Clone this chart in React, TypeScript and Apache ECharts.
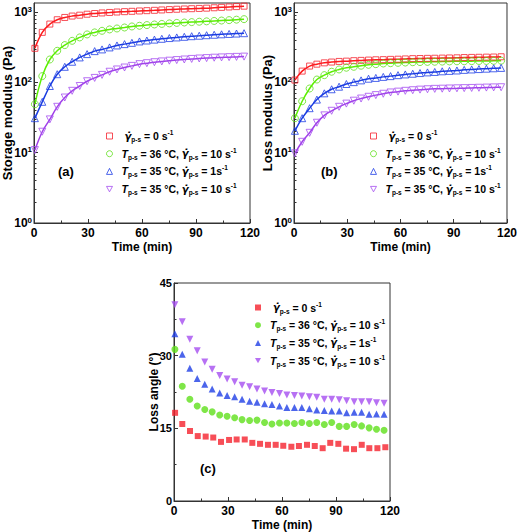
import React, { useEffect, useRef } from 'react';
import * as echarts from 'echarts';

const F = '"Liberation Sans", Arial, sans-serif';

const LEGEND_NAMES = [
  'γ̇p-s = 0 s-1',
  'Tp-s = 36 °C, γ̇p-s = 10 s-1',
  'Tp-s = 35 °C, γ̇p-s = 1 s-1',
  'Tp-s = 35 °C, γ̇p-s = 10 s-1',
];
const LEGEND_RICH = [
  '{gap|}{g0|}{gm|γ̇}{sub|p-s}{n| = 0 s}{sup|-1}',
  '{gap|}{i|T}{sub|p-s}{n| = 36 °C, }{gm|γ̇}{sub|p-s}{n| = 10 s}{sup|-1}',
  '{gap|}{i|T}{sub|p-s}{n| = 35 °C, }{gm|γ̇}{sub|p-s}{n| = 1s}{sup|-1}',
  '{gap|}{i|T}{sub|p-s}{n| = 35 °C, }{gm|γ̇}{sub|p-s}{n| = 10 s}{sup|-1}',
];
const COLORS = ['#f5222d', '#5fe01a', '#1f3fe6', '#a54ef0'];
const LINE_COLORS = ['#ff1a1a', '#5cf000', '#1a3ce0', '#a040e8'];

const LOG_MAJOR = [1, 10, 100, 1000];
const LOG_MINOR = [2, 3, 4, 5, 6, 7, 8, 9, 20, 30, 40, 50, 60, 70, 80, 90, 200, 300, 400, 500, 600, 700, 800, 900];

// time (min) of the measurements
const TIME = [0.5, 4.6, 8.8, 12.9, 17.1, 21.2, 25.4, 29.5, 33.7, 37.8, 42.0, 46.1, 50.3, 54.4, 58.6, 62.7, 66.9, 71.0, 75.2, 79.3, 83.5, 87.6, 91.8, 95.9, 100.1, 104.2, 108.4, 112.5, 116.7];
const TIME_RED_C = [0.6, 4.6, 8.9, 13.2, 17.6, 21.8, 26.1, 30.6, 34.8, 39.3, 43.5, 47.8, 52.2, 56.5, 60.7, 65.2, 69.4, 73.9, 78.2, 82.6, 86.8, 91.3, 95.6, 100, 104.3, 108.5, 113, 117.4];

// (a) storage modulus (Pa)
const A_RED = [306, 516, 677, 780, 841, 880, 906, 935, 957, 975, 990, 1005, 1017, 1028, 1040, 1050, 1062, 1075, 1088, 1100, 1110, 1120, 1130, 1140, 1155, 1170, 1185, 1200, 1217];
const A_GREEN = [49, 123, 212, 282, 340, 391, 437, 482, 515, 543, 568, 586, 605, 626, 640, 655, 668, 680, 692, 703, 713, 722, 731, 740, 750, 760, 770, 782, 795];
const A_BLUE = [31, 53, 89, 131, 167, 197, 227, 253, 279, 295, 315, 336, 351, 366, 383, 395, 407, 418, 428, 437, 446, 455, 462, 470, 477, 484, 490, 496, 502];
const A_PURPLE = [10.9, 19.9, 29.8, 45, 61, 76, 89, 104, 116, 128, 142, 153, 163, 172, 182, 188, 194, 199, 204, 208, 212, 216, 219, 222, 225, 227, 229, 231, 233];

// (b) loss modulus (Pa)
const B_RED = [108, 145, 171, 182, 190, 195, 199, 201, 204, 206, 208, 210, 211, 213, 214, 216, 218, 219, 220, 221, 222, 223, 224, 226, 227, 228, 229, 230, 232];
const B_GREEN = [31, 54, 82, 110, 127, 142, 153, 162, 167, 173, 178, 182, 186, 188, 190, 192, 194, 195, 196, 197, 198, 199, 200, 200, 201, 202, 202, 203, 204];
const B_BLUE = [20.5, 31, 43, 57, 70, 80, 87, 95, 101, 107, 113, 116, 120, 123, 127, 130, 133, 136, 139, 141, 144, 146, 148, 151, 153, 155, 157, 159, 161];
const B_PURPLE = [9.8, 14.3, 19.2, 26.7, 34, 39.5, 45, 50, 55, 59, 62.5, 66, 69, 72, 74, 76, 77.5, 79, 80, 81, 81.5, 82, 82.5, 83, 83.5, 84, 84.5, 85, 85.5];

// (c) loss angle (°)
const C_RED = [18.2, 15.9, 14.45, 13.4, 13.3, 13.1, 12.2, 12.6, 12.7, 12.7, 12.0, 11.8, 11.6, 11.6, 11.4, 11.2, 11.35, 11.6, 11.35, 10.9, 12.0, 11.8, 10.8, 10.7, 11.6, 10.9, 10.9, 11.1];
const C_GREEN = [31.3, 23.7, 21.0, 19.6, 18.9, 18.4, 17.75, 17.5, 17.2, 16.8, 16.6, 16.7, 16.2, 15.9, 16.1, 16.1, 16.0, 16.2, 16.0, 16.2, 15.8, 16.2, 15.4, 15.4, 15.8, 15.5, 15.1, 14.8, 14.6];
const C_BLUE = [34.5, 30.3, 27.4, 25.3, 24.1, 23.1, 22.3, 21.8, 21.5, 21.0, 20.6, 20.4, 20.1, 19.9, 19.6, 19.3, 19.3, 19.3, 19.05, 18.8, 18.7, 18.6, 18.6, 18.2, 18.3, 18.3, 17.9, 17.95, 17.9];
const C_PURPLE = [40.5, 37.0, 33.4, 31.0, 28.7, 27.2, 25.9, 25.2, 24.6, 23.9, 23.6, 23.1, 22.7, 22.4, 22.2, 21.9, 21.8, 21.7, 21.5, 21.4, 21.0, 21.0, 20.9, 20.7, 20.5, 20.5, 20.5, 20.3, 20.2];

const DOWN_TRI = 'path://M0,0L10,0L5,9Z';
const SYMBOLS = ['rect', 'circle', 'triangle', DOWN_TRI];

const pairs = (xs: number[], ys: number[]) => ys.map((y, i) => [xs[i], y]);

const TXT = { fontFamily: F, fontWeight: 'bold' as const, color: '#000' };

const legendRich = {
  gap: { width: 4 },
  g0: { width: 3 },
  n: { ...TXT, fontSize: 10.5, lineHeight: 14 },
  i: { ...TXT, fontSize: 10.5, fontStyle: 'italic' as const, lineHeight: 14 },
  gm: { ...TXT, fontFamily: '"DejaVu Sans"', fontSize: 10, fontStyle: 'italic' as const, lineHeight: 14 },
  sub: { ...TXT, fontSize: 6.5, lineHeight: 7, verticalAlign: 'bottom' as const },
  sup: { ...TXT, fontSize: 6.5, lineHeight: 7, verticalAlign: 'top' as const },
};

function makeLegend(left: number, top: number, hollow: boolean) {
  return {
    orient: 'vertical',
    left,
    top,
    padding: 0,
    itemGap: 3.7,
    itemWidth: 6,
    itemHeight: 6,
    selectedMode: false,
    data: LEGEND_NAMES.map((name, k) => ({
      name,
      icon: SYMBOLS[k],
      itemStyle: hollow
        ? { color: 'rgba(255,255,255,0)', borderColor: COLORS[k], borderWidth: 1 }
        : { color: COLORS[k], borderWidth: 0 },
    })),
    formatter: (name: string) => LEGEND_RICH[LEGEND_NAMES.indexOf(name)],
    textStyle: { ...TXT, fontSize: 10.5, rich: legendRich },
  };
}

const axisLineStyle = { color: '#333', width: 1 };

function makeX(gridIndex: number) {
  return {
    type: 'value',
    gridIndex,
    min: 0,
    max: 120,
    interval: 30,
    name: 'Time (min)',
    nameLocation: 'middle',
    nameGap: 18,
    nameMoveOverlap: false,
    nameTextStyle: { ...TXT, fontSize: 12 },
    axisLine: { show: true, lineStyle: axisLineStyle },
    axisTick: { show: true, inside: true, length: 4, lineStyle: axisLineStyle },
    minorTick: { show: true, splitNumber: 2, length: 2.5, lineStyle: axisLineStyle },
    axisLabel: { ...TXT, fontSize: 12, margin: 3, lineHeight: 13 },
    splitLine: { show: false },
  };
}

function makeLogY(gridIndex: number, name: string) {
  return [
    {
      type: 'log',
      gridIndex,
      min: 1,
      max: 1350,
      position: 'left',
      name,
      nameLocation: 'middle',
      nameGap: 20,
      nameMoveOverlap: false,
      nameTextStyle: { ...TXT, fontSize: 13 },
      axisLine: { show: true, lineStyle: axisLineStyle },
      axisTick: { show: true, inside: true, length: 4, lineStyle: axisLineStyle, customValues: LOG_MAJOR },
      axisLabel: {
        ...TXT,
        margin: 2,
        customValues: LOG_MAJOR,
        formatter: (v: number) => `{b|10}{e|${Math.round(Math.log10(v))}}`,
        rich: {
          b: { ...TXT, fontSize: 12, lineHeight: 14 },
          e: { ...TXT, fontSize: 8, lineHeight: 8, verticalAlign: 'top' },
        },
      },
      splitLine: { show: false },
    },
    {
      type: 'log',
      gridIndex,
      min: 1,
      max: 1350,
      position: 'left',
      axisLine: { show: false },
      axisTick: { show: true, inside: true, length: 2.5, lineStyle: axisLineStyle, customValues: LOG_MINOR },
      axisLabel: { show: false },
      splitLine: { show: false },
    },
  ];
}

function panelSeries(xi: number, yi: number, arrs: number[][]) {
  const lines = arrs.map((arr, k) => ({
    type: 'line',
    name: 'fit',
    xAxisIndex: xi,
    yAxisIndex: yi,
    data: pairs(TIME, arr),
    smooth: 0.4,
    showSymbol: false,
    symbol: 'none',
    lineStyle: { color: LINE_COLORS[k], width: 1.5 },
    z: 2,
  }));
  const marks = arrs.map((arr, k) => ({
    type: 'scatter',
    name: LEGEND_NAMES[k],
    xAxisIndex: xi,
    yAxisIndex: yi,
    data: pairs(TIME, arr),
    symbol: SYMBOLS[k],
    symbolSize: k === 0 ? 6 : 7,
    itemStyle: { color: 'rgba(255,255,255,0)', borderColor: COLORS[k], borderWidth: 1 },
    z: 3,
  }));
  return [...lines, ...marks];
}

export default function App() {
  const ref = useRef<HTMLDivElement>(null);
  useEffect(() => {
    if (!ref.current) return;
    const chart = echarts.init(ref.current, null, { renderer: 'svg' });
    const [yA, yAm] = makeLogY(0, 'Storage modulus (Pa)');
    const [yB, yBm] = makeLogY(1, 'Loss modulus (Pa)');
    const cSeries = [
      pairs(TIME_RED_C, C_RED),
      pairs(TIME, C_GREEN),
      pairs(TIME, C_BLUE),
      pairs(TIME, C_PURPLE),
    ].map((d, k) => ({
      type: 'scatter',
      name: LEGEND_NAMES[k],
      xAxisIndex: 2,
      yAxisIndex: 4,
      data: d,
      symbol: SYMBOLS[k],
      symbolSize: k === 0 ? 6 : 7,
      itemStyle: { color: COLORS[k], borderWidth: 0 },
    }));
    chart.setOption({
      animation: false,
      backgroundColor: '#fff',
      grid: [
        { left: 34, top: 3, width: 216, height: 220, show: true, borderColor: '#333', borderWidth: 1, backgroundColor: 'transparent' },
        { left: 294, top: 3, width: 216, height: 220, show: true, borderColor: '#333', borderWidth: 1, backgroundColor: 'transparent' },
        { left: 174, top: 283, width: 216, height: 218, show: true, borderColor: '#333', borderWidth: 1, backgroundColor: 'transparent' },
      ],
      xAxis: [makeX(0), makeX(1), makeX(2)],
      yAxis: [
        yA,
        yAm,
        yB,
        yBm,
        {
          type: 'value',
          gridIndex: 2,
          min: 0,
          max: 45,
          interval: 15,
          name: 'Loss angle (°)',
          nameLocation: 'middle',
          nameGap: 14,
          nameMoveOverlap: false,
          nameTextStyle: { ...TXT, fontSize: 12 },
          axisLine: { show: true, lineStyle: axisLineStyle },
          axisTick: { show: true, inside: true, length: 4, lineStyle: axisLineStyle },
          minorTick: { show: true, splitNumber: 2, length: 2.5, lineStyle: axisLineStyle },
          axisLabel: { ...TXT, fontSize: 11, margin: 2 },
          splitLine: { show: false },
        },
      ],
      legend: [makeLegend(106, 129, true), makeLegend(370, 129, true), makeLegend(255, 300.5, false)],
      graphic: [
        { type: 'text', left: 58, top: 165, style: { text: '(a)', font: `bold 13px ${F}`, fill: '#000' } },
        { type: 'text', left: 321, top: 165, style: { text: '(b)', font: `bold 13px ${F}`, fill: '#000' } },
        { type: 'text', left: 200, top: 462, style: { text: '(c)', font: `bold 13px ${F}`, fill: '#000' } },
      ],
      series: [
        ...panelSeries(0, 0, [A_RED, A_GREEN, A_BLUE, A_PURPLE]),
        ...panelSeries(1, 2, [B_RED, B_GREEN, B_BLUE, B_PURPLE]),
        ...cSeries,
      ],
    });
    return () => chart.dispose();
  }, []);
  return <div ref={ref} style={{ position: 'absolute', left: 0, top: 0, width: 520, height: 532, background: '#fff' }} />;
}
